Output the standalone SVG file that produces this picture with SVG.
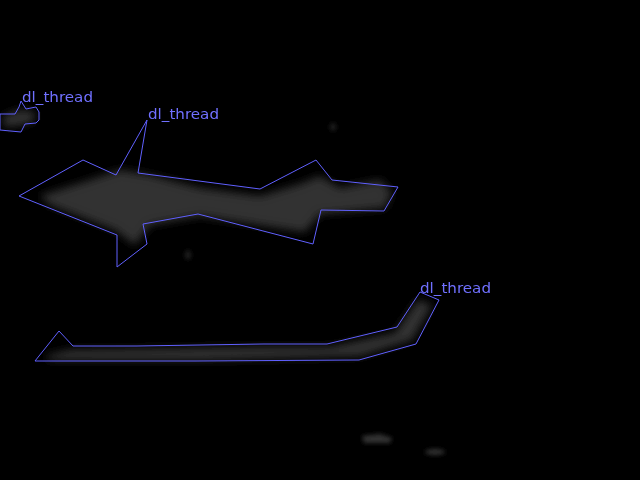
<svg xmlns="http://www.w3.org/2000/svg" width="640" height="480" viewBox="0 0 640 480">
<defs>
<filter id="blur" x="-20%" y="-50%" width="140%" height="200%"><feGaussianBlur stdDeviation="4"/></filter>
<filter id="blur2" x="-50%" y="-50%" width="200%" height="200%"><feGaussianBlur stdDeviation="2"/></filter>
</defs>
<style>
.poly{fill:none;stroke:#6060ff;stroke-width:1}
.lbl{font-family:"DejaVu Sans",sans-serif;font-size:14px;fill:#7070ff}
.blob{fill:#333333}
</style>
<rect width="640" height="480" fill="#000000"/>
<g id="scene" filter="url(#blur)">
<path class="blob" d="M40,196 L90,180 L120,170 L150,175 L200,188 L260,196 L300,184 L320,176 L340,188 L380,180 L392,192 L385,208 L320,214 L305,232 L200,216 L150,225 L135,245 L115,230 L50,205 Z"/>
<path class="blob" d="M45,356 L70,350 L140,349 L260,347 L330,347 L395,333 L418,300 L432,305 L412,340 L360,356 L200,360 L50,360 Z"/>
<path class="blob" d="M3,116 L20,110 L35,112 L34,121 L22,125 L4,127 Z"/>
</g>
<g id="specks" filter="url(#blur2)">
<path class="blob" d="M362,436 L380,434 L392,438 L390,443 L364,443 Z"/>
<ellipse class="blob" cx="435" cy="452" rx="10" ry="3"/>
<ellipse class="blob" cx="188" cy="255" rx="3" ry="5" opacity="0.6"/>
<ellipse class="blob" cx="333" cy="127" rx="3" ry="4" opacity="0.6"/>
</g>
<g id="node1">
<polygon class="poly" points="0,114 15,114 19,107 21,101 26,109 36,107 39,112 39,120 36,123 25,124 21,132 0,130"/>
<text class="lbl" x="22" y="102" textLength="71" lengthAdjust="spacingAndGlyphs">dl_thread</text>
</g>
<g id="node2">
<polygon class="poly" points="147,120 138,173 260,189 316,160 332,180 398,187 384,211 321,210 313,244 198,214 143,224 147,244 117,267 117,235 19,196 83,160 116,175"/>
<text class="lbl" x="148" y="119" textLength="71" lengthAdjust="spacingAndGlyphs">dl_thread</text>
</g>
<g id="node3">
<polygon class="poly" points="420,292 439,300 416,344 359,360 196,361 35,361 59,331 73,346 137,346 263,344 327,344 397,327"/>
<text class="lbl" x="420" y="293" textLength="71" lengthAdjust="spacingAndGlyphs">dl_thread</text>
</g>
<g id="connectors"></g>
</svg>
